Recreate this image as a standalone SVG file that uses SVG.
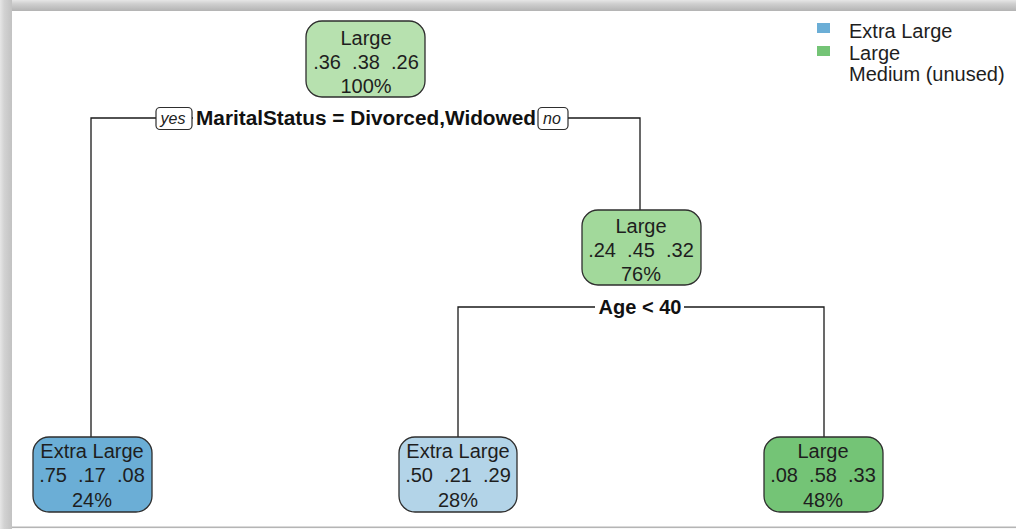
<svg xmlns="http://www.w3.org/2000/svg" width="1016" height="529" viewBox="0 0 1016 529">
<defs>
<linearGradient id="gTop" x1="0" y1="0" x2="0" y2="1">
<stop offset="0" stop-color="#e6e6e6"/><stop offset="0.35" stop-color="#cfcfcf"/><stop offset="1" stop-color="#b3b3b3"/>
</linearGradient>
<linearGradient id="gLeft" x1="0" y1="0" x2="1" y2="0">
<stop offset="0" stop-color="#e6e6e6"/><stop offset="0.35" stop-color="#d2d2d2"/><stop offset="1" stop-color="#c2c2c2"/>
</linearGradient>
<style>
.node{stroke:#2e2e2e;stroke-width:1.3}
.t{font-family:"Liberation Sans",Arial,sans-serif;font-size:20px;fill:#1e1e1e;text-anchor:middle}
.lab{font-family:"Liberation Sans",Arial,sans-serif;font-size:20px;font-weight:bold;fill:#111;text-anchor:middle}
.yn{font-family:"Liberation Sans",Arial,sans-serif;font-size:16px;font-style:italic;fill:#222;text-anchor:middle}
.ynbox{fill:#fff;stroke:#2e2e2e;stroke-width:1.2}
.leg{font-family:"Liberation Sans",Arial,sans-serif;font-size:20px;fill:#1e1e1e}
.edge{fill:none;stroke:#1a1a1a;stroke-width:1.3}
</style>
</defs>
<rect x="0" y="0" width="1016" height="529" fill="#ffffff"/>
<rect x="0" y="0" width="1016" height="11" fill="url(#gTop)"/>
<rect x="0" y="0" width="12" height="529" fill="url(#gLeft)"/>
<rect x="12" y="526.5" width="1004" height="1.6" fill="#b5b5b5"/>

<g id="connectors">
<polyline class="edge" points="91,437 91,118 640,118 640,210"/>
<polyline class="edge" points="458,437 458,307 824,307 824,437"/>
</g>

<g id="legend">
<rect x="817" y="23" width="13" height="10" fill="#6baed6"/>
<rect x="817" y="46" width="13" height="10" fill="#74c476"/>
<text class="leg" x="849" y="38">Extra Large</text>
<text class="leg" x="849" y="60">Large</text>
<text class="leg" x="849" y="81">Medium (unused)</text>
</g>

<g id="split1">
<rect x="193" y="108" width="345" height="21" fill="#fff"/>
<text class="lab" x="366" y="125" textLength="340" lengthAdjust="spacingAndGlyphs">MaritalStatus = Divorced,Widowed</text>
<rect class="ynbox" x="156" y="107.5" width="36" height="22" rx="4"/>
<text class="yn" x="173" y="124">yes</text>
<rect class="ynbox" x="538" y="107.5" width="30" height="22" rx="4"/>
<text class="yn" x="552" y="124">no</text>
</g>

<g id="split2">
<rect x="595" y="297" width="89" height="21" fill="#fff"/>
<text class="lab" x="640" y="314">Age &lt; 40</text>
</g>

<g id="n1">
<rect class="node" x="306" y="21" width="119" height="76" rx="16" fill="#b7e1af"/>
<text class="t" x="366" y="45">Large</text>
<text class="t" x="366" y="69" xml:space="preserve">.36  .38  .26</text>
<text class="t" x="366" y="93">100%</text>
</g>

<g id="n2">
<rect class="node" x="582" y="210" width="119" height="75" rx="16" fill="#a2d99b"/>
<text class="t" x="641" y="233">Large</text>
<text class="t" x="641" y="257" xml:space="preserve">.24  .45  .32</text>
<text class="t" x="641" y="281">76%</text>
</g>

<g id="n3">
<rect class="node" x="33" y="437" width="119" height="75" rx="16" fill="#6baed6"/>
<text class="t" x="92" y="458">Extra Large</text>
<text class="t" x="92" y="482" xml:space="preserve">.75  .17  .08</text>
<text class="t" x="92" y="507">24%</text>
</g>

<g id="n4">
<rect class="node" x="399" y="437" width="118" height="75" rx="16" fill="#b3d4e8"/>
<text class="t" x="458" y="458">Extra Large</text>
<text class="t" x="458" y="482" xml:space="preserve">.50  .21  .29</text>
<text class="t" x="458" y="507">28%</text>
</g>

<g id="n5">
<rect class="node" x="764" y="437" width="119" height="75" rx="16" fill="#74c476"/>
<text class="t" x="823" y="458">Large</text>
<text class="t" x="823" y="482" xml:space="preserve">.08  .58  .33</text>
<text class="t" x="823" y="507">48%</text>
</g>
</svg>
